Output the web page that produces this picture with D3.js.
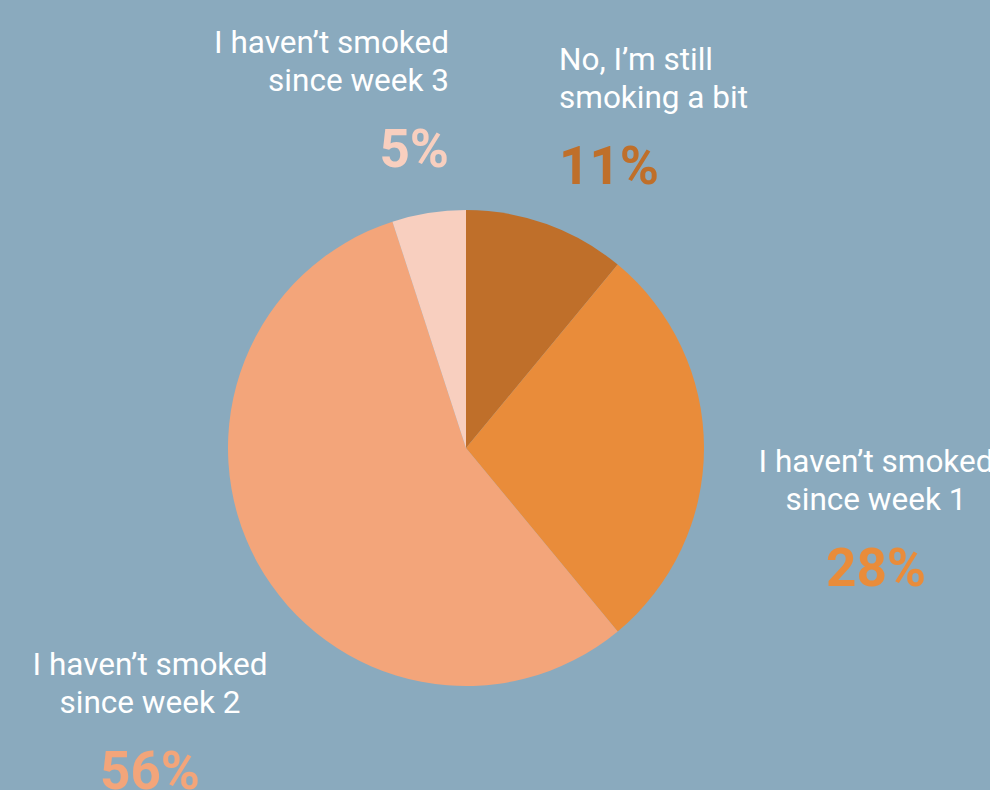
<!DOCTYPE html>
<html>
<head>
<meta charset="utf-8">
<script src="https://cdn.jsdelivr.net/npm/d3@7"></script>
<style>
  body { margin: 0; background: #8aaabe; }
  svg { display: block; }
</style>
</head>
<body>
<script>
// chart values
const categories = ["No, I\u2019m still smoking a bit", "I haven\u2019t smoked since week 1", "I haven\u2019t smoked since week 2", "I haven\u2019t smoked since week 3"];
const labelLines = [["No, I\u2019m still", "smoking a bit"], ["I haven\u2019t smoked", "since week 1"], ["I haven\u2019t smoked", "since week 2"], ["I haven\u2019t smoked", "since week 3"]];
const values = [11, 28, 56, 5];
const colors = ["#bf6f2a", "#e98c3a", "#f3a57a", "#f8cfbf"];

const width = 990, height = 790;
const cx = 466, cy = 448, radius = 238;

// where each label block sits (x, first baseline, anchor)
const labelPos = [
    { x: 559, y: 70, anchor: "start" },
    { x: 876, y: 472, anchor: "middle" },
    { x: 150, y: 675, anchor: "middle" },
    { x: 449, y: 53, anchor: "end" }
];

const svg = d3.select("body")
    .append("svg")
    .attr("width", width)
    .attr("height", height);

svg.append("rect")
    .attr("width", width)
    .attr("height", height)
    .attr("fill", "#8aaabe");

const pie = d3.pie().sort(null).value(d => d);
const arc = d3.arc().innerRadius(0).outerRadius(radius);

const g = svg.append("g")
    .attr("transform", "translate(" + cx + "," + cy + ")");

g.selectAll("path")
    .data(pie(values))
    .enter()
    .append("path")
    .attr("d", arc)
    .attr("fill", (d, i) => colors[i]);

// labels
const labels = svg.selectAll(".label")
    .data(categories)
    .enter()
    .append("g")
    .attr("class", "label");

labels.each(function (d, i) {
    const p = labelPos[i];
    const t = d3.select(this).append("text")
        .attr("x", p.x)
        .attr("y", p.y)
        .attr("text-anchor", p.anchor)
        .attr("font-family", "Roboto, sans-serif")
        .attr("font-size", "31.5px")
        .attr("fill", "#ffffff");
    labelLines[i].forEach((line, j) => {
        t.append("tspan")
            .attr("x", p.x)
            .attr("y", p.y + j * 38)
            .text(line);
    });
    d3.select(this).append("text")
        .attr("x", p.x)
        .attr("y", p.y + 38 + 76)
        .attr("text-anchor", p.anchor)
        .attr("font-family", "Roboto, sans-serif")
        .attr("font-weight", "bold")
        .attr("font-size", "53px")
        .attr("fill", colors[i])
        .text(values[i] + "%");
});
</script>
</body>
</html>
